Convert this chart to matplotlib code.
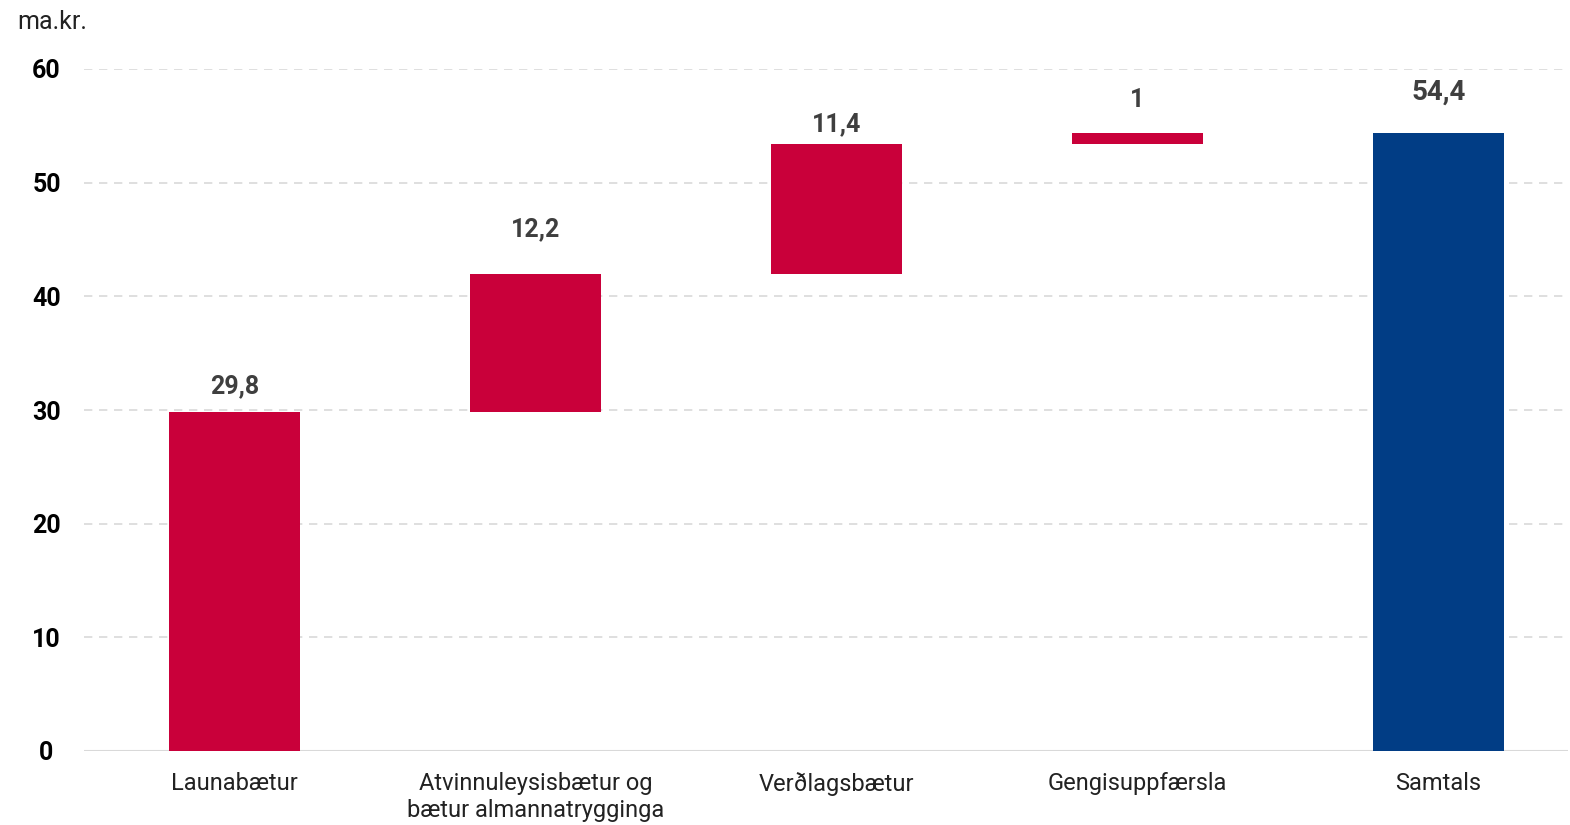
import matplotlib
matplotlib.use("Agg")
import matplotlib.pyplot as plt
import numpy as np

categories = ["Launabætur", "Atvinnuleysisbætur og\nbætur almannatrygginga",
              "Verðlagsbætur", "Gengisuppfærsla", "Samtals"]
changes = [29.8, 12.2, 11.4, 1.0]
total = 54.4
labels = ["29,8", "12,2", "11,4", "1", "54,4"]
yticks = [0, 10, 20, 30, 40, 50, 60]

# label offsets above bar tops (pixels), layout only
label_offsets_px = [26, 44, 20, 33, 40]

red = "#C9003A"
blue = "#013D85"

plt.rcParams['font.family'] = ['Roboto', 'DejaVu Sans']

fig = plt.figure(figsize=(15.7, 8.25), dpi=100)
ax = fig.add_axes([84/1570, 1-751/825, (1568-84)/1570, (751-69)/825])

bottoms = list(np.concatenate([[0], np.cumsum(changes)[:-1]])) + [0]
heights = changes + [total]
colors = [red]*4 + [blue]
x = np.arange(len(categories))
ax.bar(x, heights, bottom=bottoms, width=0.435, color=colors, zorder=3)

for i in range(len(categories)):
    top = bottoms[i] + heights[i]
    fs = 20 if i == 4 else 18
    ax.annotate(labels[i], (x[i], top), xytext=(0, label_offsets_px[i]*0.72),
                textcoords="offset points",
                ha="center", va="center", fontsize=fs, fontweight="bold", color="#3f3f3f")

ax.set_xlim(-0.5, 4.43)
ax.set_ylim(0, 60)
ax.set_yticks(yticks)
ax.set_yticklabels([str(t) for t in yticks], fontsize=18, fontweight="bold", color="black")
ax.set_xticks(x)
ax.set_xticklabels(categories, fontsize=17, fontweight="normal", color="#222222", linespacing=1.25)
ax.tick_params(axis="both", length=0)
ax.tick_params(axis="y", pad=27)
ax.tick_params(axis="x", pad=15)
for t in ax.get_yticklabels():
    t.set_horizontalalignment("center")
for s in ax.spines.values():
    s.set_visible(False)
ax.yaxis.grid(True, color="#d9d9d9", linestyle=(0, (5, 4)), linewidth=1.2, zorder=0)
ax.axhline(0, color="#d9d9d9", linewidth=1.5, zorder=2)

fig.text(17/1570, 1-22/825, "ma.kr.", fontsize=18, fontweight="normal", color="#222222",
         ha="left", va="center")

fig.savefig("out.png", dpi=100)
